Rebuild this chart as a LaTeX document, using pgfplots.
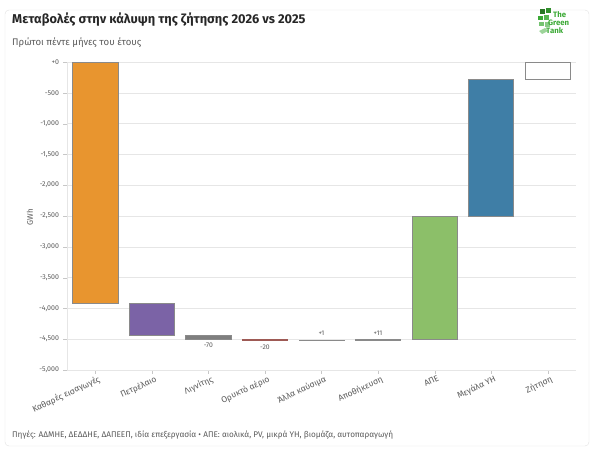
\documentclass[border=0pt]{standalone}
\usepackage{pgfplots}
\pgfplotsset{compat=1.18}
\usepackage{fontspec}
\setmainfont{Fira Sans}
\definecolor{cOrange}{HTML}{E8952F}
\definecolor{cPurple}{HTML}{7B63A6}
\definecolor{cLignite}{HTML}{7F7F7F}
\definecolor{cGas}{HTML}{B48A86}
\definecolor{cGasB}{HTML}{9E5A55}
\definecolor{cOther}{HTML}{9A9A9A}
\definecolor{cStorage}{HTML}{6F6F6F}
\definecolor{cGreen}{HTML}{8CBF69}
\definecolor{cBlue}{HTML}{3F7EA6}
\definecolor{cBorder}{HTML}{8A8A8A}
\definecolor{cText}{HTML}{5A5A5A}
\definecolor{cGrid}{HTML}{E6E6E6}
\definecolor{cLogo}{HTML}{3BA935}
\tikzset{vlabw/.style={font=\fontsize{6.8}{7}\selectfont\bfseries, inner sep=0pt, text=white},
         vlabg/.style={font=\fontsize{6.8}{7}\selectfont, inner sep=0pt, text=cText}}
\begin{document}
\begin{tikzpicture}[x=1pt,y=1pt]
\path[use as bounding box] (0,0) rectangle (592,448);
\draw[black!12, rounded corners=4pt] (5,2) rectangle (589,438);
% title
\node[anchor=base west, inner sep=0pt, text=black!85, font=\fontsize{12.8}{14}\selectfont\bfseries] at (12,424) {Μεταβολές στην κάλυψη της ζήτησης 2026 vs 2025};
\node[anchor=base west, inner sep=0pt, text=cText, font=\fontsize{9.6}{11}\selectfont] at (12,402) {Πρώτοι πέντε μήνες του έτους};
\node[anchor=base west, inner sep=0pt, text=cText, font=\fontsize{8.2}{9}\selectfont] at (12,11) {Πηγές: ΑΔΜΗΕ, ΔΕΔΔΗΕ, ΔΑΠΕΕΠ, ιδία επεξεργασία • ΑΠΕ: αιολικά, PV, μικρά ΥΗ, βιομάζα, αυτοπαραγωγή};
% logo
\fill[cLogo!70!black] (540,434) rectangle (545,439);
\fill[cLogo!85!black] (546,435) rectangle (551,440);
\fill[cLogo] (538,428) rectangle (543,432);
\fill[cLogo!85] (544,428) rectangle (549,433);
\fill[cLogo!70] (539,422) rectangle (544,426);
\fill[cLogo!60] (545,421) rectangle (550,426);
\fill[cLogo!50] (542,414) -- (548,417) -- (545,420) -- (539,417) -- cycle;
\node[anchor=base west, inner sep=0pt, text=cLogo, font=\fontsize{7.8}{8}\selectfont\bfseries] at (553,430) {The};
\node[anchor=base west, inner sep=0pt, text=cLogo, font=\fontsize{7.8}{8}\selectfont\bfseries] at (548,422) {Green};
\node[anchor=base west, inner sep=0pt, text=cLogo, font=\fontsize{7.8}{8}\selectfont\bfseries] at (546,414) {Tank};
% y label
\node[rotate=90, text=cText, font=\fontsize{8}{9}\selectfont] at (30,231) {GWh};
\begin{axis}[
  at={(67pt,78pt)}, anchor=south west,
  scale only axis, width=509pt, height=308pt,
  xmin=-0.5, xmax=8.5, ymin=-5000, ymax=0,
  ybar stacked, bar width=0.8,
  axis x line*=bottom, axis y line*=left,
  axis line style={cGrid},
  ymajorgrids, grid style={cGrid, line width=0.6pt},
  ytick={0,-500,-1000,-1500,-2000,-2500,-3000,-3500,-4000,-4500,-5000},
  yticklabels={+0,-500,{-1,000},{-1,500},{-2,000},{-2,500},{-3,000},{-3,500},{-4,000},{-4,500},{-5,000}},
  xtick={0,1,2,3,4,5,6,7,8},
  xticklabels={Καθαρές εισαγωγές,Πετρέλαιο,Λιγνίτης,Ορυκτό αέριο,Άλλα καύσιμα,Αποθήκευση,ΑΠΕ,Μεγάλα ΥΗ,Ζήτηση},
  major tick length=3.5pt,
  tick style={cGrid!70!gray},
  tick align=outside,
  yticklabel style={text=cText, font=\fontsize{7}{8}\selectfont, xshift=-1pt},
  xticklabel style={text=cText, font=\fontsize{8.5}{9}\selectfont, rotate=25, anchor=north east, xshift=5pt, yshift=1pt},
  clip=false,
]
\addplot[draw=none, fill=none] coordinates {(0,0) (1,-3919) (2,-4430) (3,-4500) (4,-4519) (5,-4508) (6,-2506) (7,-285) (8,0)};
\addplot[fill=cGas, draw=cGasB, line width=0.6pt] coordinates {(0,0) (1,0) (2,0) (3,-20) (4,0) (5,0) (6,0) (7,0) (8,0)};
\addplot[fill=cOrange, draw=cBorder, line width=0.6pt] coordinates {(0,-3919) (1,0) (2,0) (3,0) (4,0) (5,0) (6,0) (7,0) (8,0)};
\addplot[fill=cPurple, draw=cBorder, line width=0.6pt] coordinates {(0,0) (1,-511) (2,0) (3,0) (4,0) (5,0) (6,0) (7,0) (8,0)};
\addplot[fill=cLignite, draw=cBorder, line width=0.6pt] coordinates {(0,0) (1,0) (2,-70) (3,0) (4,0) (5,0) (6,0) (7,0) (8,0)};
\addplot[fill=cOther, draw=cBorder, line width=0.6pt] coordinates {(0,0) (1,0) (2,0) (3,0) (4,-1) (5,0) (6,0) (7,0) (8,0)};
\addplot[fill=cStorage, draw=cBorder, line width=0.6pt] coordinates {(0,0) (1,0) (2,0) (3,0) (4,0) (5,-11) (6,0) (7,0) (8,0)};
\addplot[fill=cGreen, draw=cBorder, line width=0.6pt] coordinates {(0,0) (1,0) (2,0) (3,0) (4,0) (5,0) (6,-2002) (7,0) (8,0)};
\addplot[fill=cBlue, draw=cBorder, line width=0.6pt] coordinates {(0,0) (1,0) (2,0) (3,0) (4,0) (5,0) (6,0) (7,-2221) (8,0)};
\addplot[fill=white, draw=cBorder, line width=0.6pt] coordinates {(0,0) (1,0) (2,0) (3,0) (4,0) (5,0) (6,0) (7,0) (8,-285)};
\node[vlabw] at (axis cs:0,-3800) {-3,919};
\node[vlabw] at (axis cs:1,-4318) {-511};
\node[vlabg] at (axis cs:2,-4594) {-70};
\node[vlabg] at (axis cs:3,-4627) {-20};
\node[vlabg] at (axis cs:4,-4400) {+1};
\node[vlabg] at (axis cs:5,-4400) {+11};
\node[vlabw] at (axis cs:6,-2600) {+2,002};
\node[vlabw] at (axis cs:7,-390) {+2,221};
\node[vlabg] at (axis cs:8,-160) {-286};
\end{axis}
\end{tikzpicture}
\end{document}
